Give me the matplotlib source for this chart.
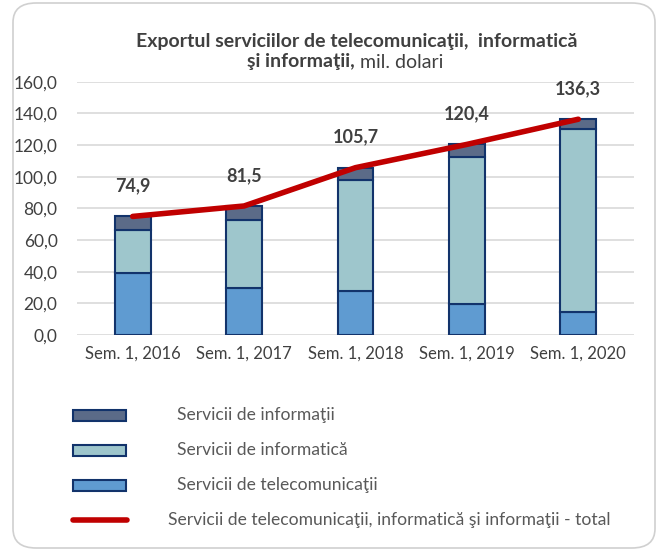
import matplotlib
matplotlib.use("Agg")
import matplotlib.pyplot as plt
from matplotlib.patches import FancyBboxPatch, Rectangle
from matplotlib.lines import Line2D
import numpy as np

categories = ["Sem. 1, 2016", "Sem. 1, 2017", "Sem. 1, 2018", "Sem. 1, 2019", "Sem. 1, 2020"]
telecom = [39.3, 29.5, 28.0, 19.6, 14.7]
informatica = [26.8, 43.3, 69.9, 93.0, 115.2]
informatii = [8.8, 8.7, 7.8, 7.8, 6.4]
total = [74.9, 81.5, 105.7, 120.4, 136.3]
total_labels = ["74,9", "81,5", "105,7", "120,4", "136,3"]
yticks = [0, 20, 40, 60, 80, 100, 120, 140, 160]
ytick_labels = ["0,0", "20,0", "40,0", "60,0", "80,0", "100,0", "120,0", "140,0", "160,0"]
legend_labels = ["Servicii de informaţii", "Servicii de informatică",
                 "Servicii de telecomunicaţii",
                 "Servicii de telecomunicaţii, informatică şi informaţii - total"]

plt.rcParams['font.family'] = ['Lato', 'DejaVu Sans']

c_tel = "#5F9BD1"
c_inf = "#9EC6CC"
c_info = "#5B6B88"
c_edge = "#12336B"
c_red = "#C00000"
c_text = "#404040"

W, H = 662, 551
fig = plt.figure(figsize=(W/100, H/100), dpi=100)

# rounded frame
frame = FancyBboxPatch((13/W, 3/H), (655-13)/W, (548-3)/H,
                       boxstyle="round,pad=0,rounding_size=0.035",
                       transform=fig.transFigure, facecolor="none",
                       edgecolor="#D0D0D0", linewidth=1.2, zorder=-1)
fig.patches.append(frame)

ax = fig.add_axes([77/W, 1-335/H, (634-77)/W, (335-81.7)/H])
ax.set_facecolor("none")
x = np.arange(len(categories))
bw = 0.32
tel = np.array(telecom); inf = np.array(informatica); info = np.array(informatii)
ax.bar(x, tel, bw, color=c_tel, edgecolor=c_edge, linewidth=1.5, zorder=3)
ax.bar(x, inf, bw, bottom=tel, color=c_inf, edgecolor=c_edge, linewidth=1.5, zorder=3)
ax.bar(x, info, bw, bottom=tel+inf, color=c_info, edgecolor=c_edge, linewidth=1.5, zorder=3)
ax.plot(x, total, color=c_red, linewidth=4, solid_capstyle="round", zorder=4)
for xi, t, lab in zip(x, total, total_labels):
    ax.annotate(lab, (xi, t), xytext=(0, 22), textcoords="offset points",
                ha="center", va="center", fontsize=13, fontweight="bold", color=c_text)

ax.set_xlim(-0.5, len(categories)-0.5)
ax.set_ylim(0, 160)
ax.set_yticks(yticks)
ax.set_yticklabels(ytick_labels)
ax.set_xticks(x)
ax.set_xticklabels(categories)
ax.tick_params(axis="both", length=0, labelsize=12.5, colors=c_text)
ax.tick_params(axis="x", labelsize=12)
ax.tick_params(axis="y", pad=14)
ax.tick_params(axis="x", pad=8)
ax.grid(axis="y", color="#D9D9D9", linewidth=1.2, zorder=0)
for s in ax.spines.values():
    s.set_visible(False)

# title
fig.text(357/W, 1-42/H, "Exportul serviciilor de telecomunicaţii,  informatică",
         ha="center", va="center", fontsize=14, fontweight="bold", color=c_text)
fig.text(355/W, 1-62/H, "şi informaţii,", ha="right", va="center",
         fontsize=14, fontweight="bold", color=c_text)
fig.text(355/W, 1-62/H, " mil. dolari", ha="left", va="center",
         fontsize=14, color=c_text)

# legend
rows = [415, 450, 485, 520]
colors = [c_info, c_inf, c_tel]
for i in range(3):
    y = rows[i]
    fig.patches.append(Rectangle((73/W, 1-(y+5.5)/H), 53/W, 11/H, transform=fig.transFigure,
                                 facecolor=colors[i], edgecolor=c_edge, linewidth=1.5))
    fig.text(177/W, 1-y/H, legend_labels[i], ha="left", va="center", fontsize=12.6, color="#595959")
fig.lines.append(Line2D([73/W, 127/W], [1-520/H, 1-520/H], transform=fig.transFigure,
                        color=c_red, linewidth=4, solid_capstyle="round"))
fig.text(168/W, 1-520/H, legend_labels[3], ha="left", va="center", fontsize=12.6, color="#595959")

fig.savefig("out.png", dpi=100)
